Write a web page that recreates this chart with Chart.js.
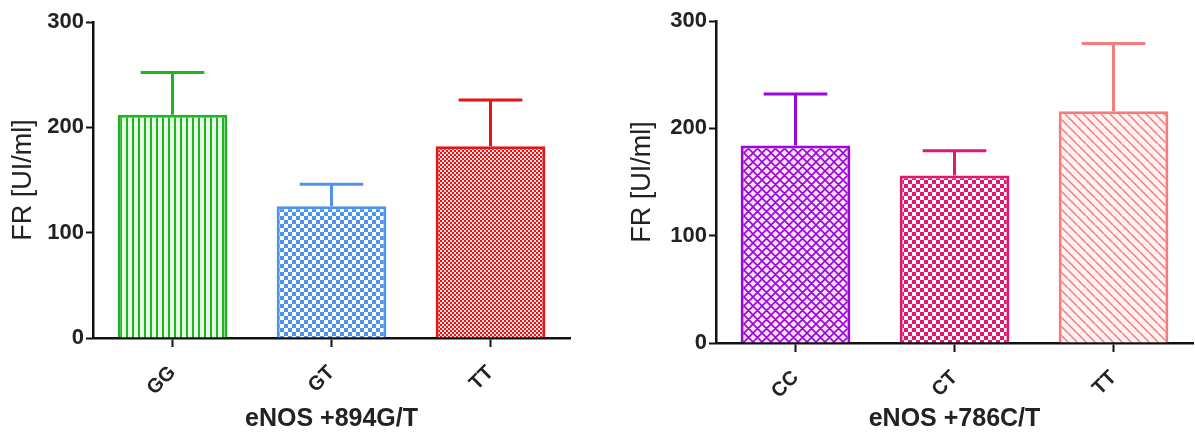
<!DOCTYPE html>
<html>
<head>
<meta charset="utf-8">
<script src="https://cdn.jsdelivr.net/npm/chart.js@4.4.1/dist/chart.umd.min.js"></script>
<style>
body { margin: 0; background: #fff; width: 1195px; height: 437px; overflow: hidden; position: relative; }
canvas { position: absolute; top: 0; }
#left { left: 0; }
#right { left: 600px; }
</style>
</head>
<body>
<canvas id="left" width="600" height="437"></canvas>
<canvas id="right" width="595" height="437"></canvas>
<script>
// values
const leftCategories = ['GG', 'GT', 'TT'];
const leftMeans = [212, 125, 182];
const leftUpper = [252, 146, 226];

const rightCategories = ['CC', 'CT', 'TT'];
const rightMeans = [184, 156, 216];
const rightUpper = [232, 179, 279];

const yMin = 0;
const yMax = 300;
const yStep = 100;

const FONT = 'Arial, "Liberation Sans", sans-serif';

function makePattern(kind, color, bg, s) {
    const c = document.createElement('canvas');
    c.width = s;
    c.height = s;
    const g = c.getContext('2d');
    g.fillStyle = bg;
    g.fillRect(0, 0, s, s);
    g.fillStyle = color;
    g.strokeStyle = color;
    if (kind === 'vlines') {
        g.fillRect(0, 0, 2, s);
    } else if (kind === 'checker') {
        const h = s / 2;
        g.fillRect(0, 0, h, h);
        g.fillRect(h, h, h, h);
    } else if (kind === 'back') {
        g.lineWidth = 1.5;
        g.beginPath();
        for (let k = -s; k <= s; k += s) {
            g.moveTo(k, 0);
            g.lineTo(k + s, s);
        }
        g.stroke();
    } else if (kind === 'cross') {
        g.lineWidth = 1.6;
        g.beginPath();
        for (let k = -s; k <= s; k += s) {
            g.moveTo(k, 0);
            g.lineTo(k + s, s);
            g.moveTo(k + s, 0);
            g.lineTo(k, s);
        }
        g.stroke();
    }
    return g.createPattern(c, 'repeat');
}

const errorBars = {
    id: 'errorBars',
    afterDatasetsDraw(chart) {
        const ctx = chart.ctx;
        const yScale = chart.scales.y;
        const ds = chart.data.datasets[0];
        chart.getDatasetMeta(0).data.forEach((bar, i) => {
            const yTop = yScale.getPixelForValue(ds.upper[i]);
            const half = bar.width * 0.29;
            ctx.save();
            ctx.strokeStyle = ds.borderColor[i];
            ctx.lineWidth = 3;
            ctx.beginPath();
            ctx.moveTo(bar.x, bar.y);
            ctx.lineTo(bar.x, yTop);
            ctx.moveTo(bar.x - half, yTop);
            ctx.lineTo(bar.x + half, yTop);
            ctx.stroke();
            ctx.restore();
        });
    }
};

function makeChart(id, cfg) {
    return new Chart(document.getElementById(id), {
        type: 'bar',
        data: {
            labels: cfg.labels,
            datasets: [{
                data: cfg.means,
                upper: cfg.upper,
                backgroundColor: cfg.fills,
                borderColor: cfg.colors,
                borderWidth: 3,
                borderSkipped: 'bottom',
                barPercentage: 0.69,
                categoryPercentage: 1
            }]
        },
        options: {
            responsive: false,
            animation: false,
            devicePixelRatio: 1,
            layout: { padding: cfg.padding },
            plugins: { legend: { display: false }, tooltip: { enabled: false } },
            scales: {
                x: {
                    offset: true,
                    grid: { display: true, drawOnChartArea: false, offset: false, tickLength: 9, tickWidth: 2, tickColor: '#111' },
                    border: { display: true, color: '#111', width: 2.5 },
                    ticks: { color: '#222', font: { family: FONT, size: 20, weight: 'bold' }, minRotation: 45, maxRotation: 45, padding: 14 },
                    title: { display: true, text: cfg.xTitle, color: '#222', font: { family: FONT, size: 25, weight: 'bold', lineHeight: 1.2 }, padding: { top: 0, bottom: 3 } },
                    afterFit(scale) { scale.height = cfg.xHeight; }
                },
                y: {
                    min: yMin,
                    max: yMax,
                    grid: { display: true, drawOnChartArea: false, tickLength: 7, tickWidth: 2, tickColor: '#111' },
                    border: { display: true, color: '#111', width: 2.5 },
                    ticks: { stepSize: yStep, color: '#222', font: { family: FONT, size: 22, weight: 'bold' }, padding: 2 },
                    title: { display: true, text: 'FR [UI/ml]', color: '#222', font: { family: FONT, size: 27, lineHeight: 1.2 }, padding: { top: cfg.yTitlePad, bottom: 0 } },
                    afterFit(scale) { scale.width = cfg.yWidth; }
                }
            }
        },
        plugins: [errorBars]
    });
}

const leftColors = ['#1fb51f', '#4f93ec', '#e81414'];
makeChart('left', {
    labels: leftCategories,
    means: leftMeans,
    upper: leftUpper,
    colors: leftColors,
    fills: [
        makePattern('vlines', '#1fb51f', '#e6f8e6', 6),
        makePattern('checker', '#4f93ec', '#ffffff', 8),
        makePattern('checker', '#e81414', '#fde0e0', 4)
    ],
    xTitle: 'eNOS +894G/T',
    padding: { left: 0, top: 22, right: 30, bottom: 0 },
    yWidth: 93,
    xHeight: 99,
    yTitlePad: 7
});

const rightColors = ['#9c06d8', '#e2176f', '#f47c7c'];
makeChart('right', {
    labels: rightCategories,
    means: rightMeans,
    upper: rightUpper,
    colors: rightColors,
    fills: [
        makePattern('cross', '#9c06d8', '#fbe2fb', 9),
        makePattern('checker', '#e2176f', '#ffffff', 8),
        makePattern('back', '#f47c7c', '#fff2f2', 9)
    ],
    xTitle: 'eNOS +786C/T',
    padding: { left: 0, top: 21, right: 2, bottom: 0 },
    yWidth: 116,
    xHeight: 94,
    yTitlePad: 26
});
</script>
</body>
</html>
